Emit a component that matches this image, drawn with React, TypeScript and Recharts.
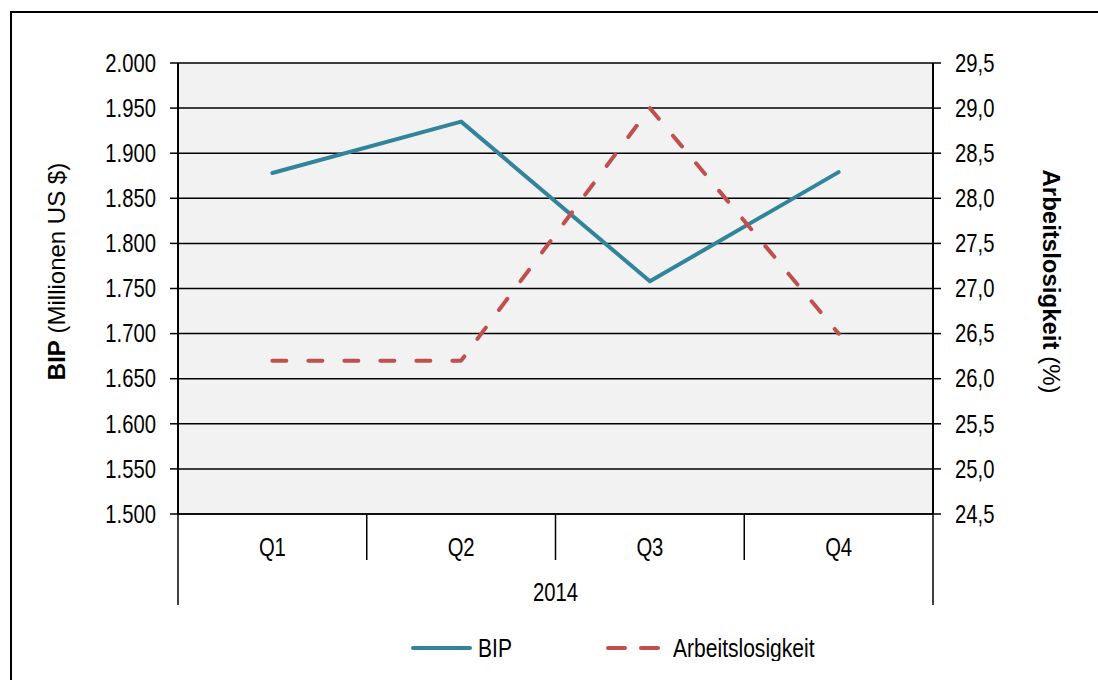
import { LineChart, Line, XAxis, YAxis, CartesianGrid, Legend } from 'recharts';

const quarters = ['Q1', 'Q2', 'Q3', 'Q4'];
const yearLabel = '2014';
const bip = [1878, 1935, 1758, 1879];
const arbeitslosigkeit = [26.2, 26.2, 29.0, 26.5];
const bipTicks = [1500, 1550, 1600, 1650, 1700, 1750, 1800, 1850, 1900, 1950, 2000];
const alTicks = [24.5, 25.0, 25.5, 26.0, 26.5, 27.0, 27.5, 28.0, 28.5, 29.0, 29.5];

const data = quarters.map((q, i) => ({
  q,
  year: yearLabel,
  bip: bip[i],
  al: arbeitslosigkeit[i],
}));

const TEAL = '#31849b';
const RED = '#c0504d';
const SANS = "'Liberation Sans', Arial, sans-serif";
const SQUEEZE = 0.81;

const PLOT_W = 755;
const BAND = PLOT_W / quarters.length;

const fmtBip = (v: number) => `${Math.floor(v / 1000)}.${String(v % 1000).padStart(3, '0')}`;
const fmtAl = (v: number) => v.toFixed(1).replace('.', ',');

// the original uses a condensed face, squeeze Liberation Sans horizontally
const Narrow = ({ x, y, anchor, size, children }: any) => (
  <g transform={`translate(${x},${y}) scale(${SQUEEZE},1)`}>
    <text x={0} y={0} textAnchor={anchor} dominantBaseline="central" fontSize={size} fontFamily={SANS} fill="#000">
      {children}
    </text>
  </g>
);

const QuarterTick = (props: any) => {
  const { x, y, payload, index } = props;
  const half = BAND / 2;
  const last = index === quarters.length - 1;
  return (
    <g>
      <line x1={x - half} y1={y} x2={x - half} y2={y + (index === 0 ? 91 : 46)} stroke="#000" strokeWidth={1.5} />
      {last && <line x1={x + half} y1={y} x2={x + half} y2={y + 91} stroke="#000" strokeWidth={1.5} />}
      <Narrow x={x} y={y + 33} anchor="middle" size={25}>{payload.value}</Narrow>
    </g>
  );
};

const YearTick = (props: any) => {
  const { x, y, payload, index } = props;
  if (index !== 0) return <g />;
  return <Narrow x={x} y={y + 32} anchor="middle" size={25}>{payload.value}</Narrow>;
};

const LeftTick = (props: any) => {
  const { x, y, payload } = props;
  return <Narrow x={x} y={y} anchor="end" size={25}>{fmtBip(payload.value)}</Narrow>;
};

const RightTick = (props: any) => {
  const { x, y, payload } = props;
  return <Narrow x={x} y={y} anchor="start" size={25}>{fmtAl(payload.value)}</Narrow>;
};

const LeftTitle = (props: any) => {
  const vb = props.viewBox;
  const cx = vb.x + 46;
  const cy = vb.y + vb.height / 2 - 17;
  return (
    <text x={cx} y={cy} transform={`rotate(-90 ${cx} ${cy})`} textAnchor="middle" dominantBaseline="central" fontSize={24} fontFamily={SANS} fill="#000">
      <tspan fontWeight="bold">BIP</tspan>
      <tspan> (Millionen US $)</tspan>
    </text>
  );
};

const RightTitle = (props: any) => {
  const vb = props.viewBox;
  const cx = vb.x + 119;
  const cy = vb.y + vb.height / 2 - 7;
  return (
    <text x={cx} y={cy} transform={`rotate(90 ${cx} ${cy})`} textAnchor="middle" dominantBaseline="central" fontSize={24} fontFamily={SANS} fill="#000">
      <tspan fontWeight="bold">Arbeitslosigkeit</tspan>
      <tspan> (%)</tspan>
    </text>
  );
};

const renderLegend = () => (
  <svg width={1078} height={56} style={{ display: 'block' }}>
    <line x1={403} y1={43} x2={460} y2={43} stroke={TEAL} strokeWidth={4} strokeLinecap="round" />
    <Narrow x={468} y={43} anchor="start" size={26}>BIP</Narrow>
    <line x1={598} y1={43} x2={649} y2={43} stroke={RED} strokeWidth={4} strokeLinecap="round" strokeDasharray="17 16" />
    <Narrow x={663} y={43} anchor="start" size={26}>Arbeitslosigkeit</Narrow>
  </svg>
);

export default function App() {
  return (
    <div style={{ position: 'absolute', left: 0, top: 0, width: 1098, height: 680, overflow: 'hidden', background: '#fff' }}>
      <div style={{ position: 'absolute', left: 10, top: 11, width: 1100, height: 700, border: '2px solid #000', boxSizing: 'border-box' }} />
      <LineChart width={1098} height={680} data={data} margin={{ top: 63, right: 10, bottom: 19, left: 10 }}>
        <CartesianGrid vertical={false} stroke="#000" strokeWidth={1.5} fill="#f2f2f2" yAxisId="bip" />
        <XAxis
          xAxisId="q"
          dataKey="q"
          scale="band"
          height={46}
          tickSize={0}
          tickMargin={0}
          tickLine={false}
          axisLine={{ stroke: '#000', strokeWidth: 1.5 }}
          tick={<QuarterTick />}
          interval={0}
        />
        <XAxis
          xAxisId="year"
          dataKey="year"
          allowDuplicatedCategory={false}
          scale="band"
          height={45}
          tickSize={0}
          tickMargin={0}
          tickLine={false}
          axisLine={false}
          tick={<YearTick />}
        />
        <YAxis
          yAxisId="bip"
          orientation="left"
          width={168}
          domain={[1500, 2000]}
          ticks={bipTicks}
          interval={0}
          tickSize={8}
          tickMargin={14}
          tickLine={{ stroke: '#000', strokeWidth: 1.5 }}
          axisLine={{ stroke: '#000', strokeWidth: 2 }}
          tick={<LeftTick />}
          label={<LeftTitle />}
        />
        <YAxis
          yAxisId="al"
          orientation="right"
          width={155}
          domain={[24.5, 29.5]}
          ticks={alTicks}
          interval={0}
          tickSize={8}
          tickMargin={14}
          tickLine={{ stroke: '#000', strokeWidth: 1.5 }}
          axisLine={{ stroke: '#000', strokeWidth: 2 }}
          tick={<RightTick />}
          label={<RightTitle />}
        />
        <Legend verticalAlign="bottom" content={renderLegend} wrapperStyle={{ height: 56 }} />
        <Line
          xAxisId="q"
          yAxisId="bip"
          dataKey="bip"
          name="BIP"
          stroke={TEAL}
          strokeWidth={4}
          strokeLinecap="round"
          strokeLinejoin="round"
          dot={false}
          activeDot={false}
          isAnimationActive={false}
        />
        <Line
          xAxisId="q"
          yAxisId="al"
          dataKey="al"
          name="Arbeitslosigkeit"
          stroke={RED}
          strokeWidth={4}
          strokeDasharray="14 22"
          strokeLinecap="round"
          strokeLinejoin="round"
          dot={false}
          activeDot={false}
          isAnimationActive={false}
        />
      </LineChart>
    </div>
  );
}
